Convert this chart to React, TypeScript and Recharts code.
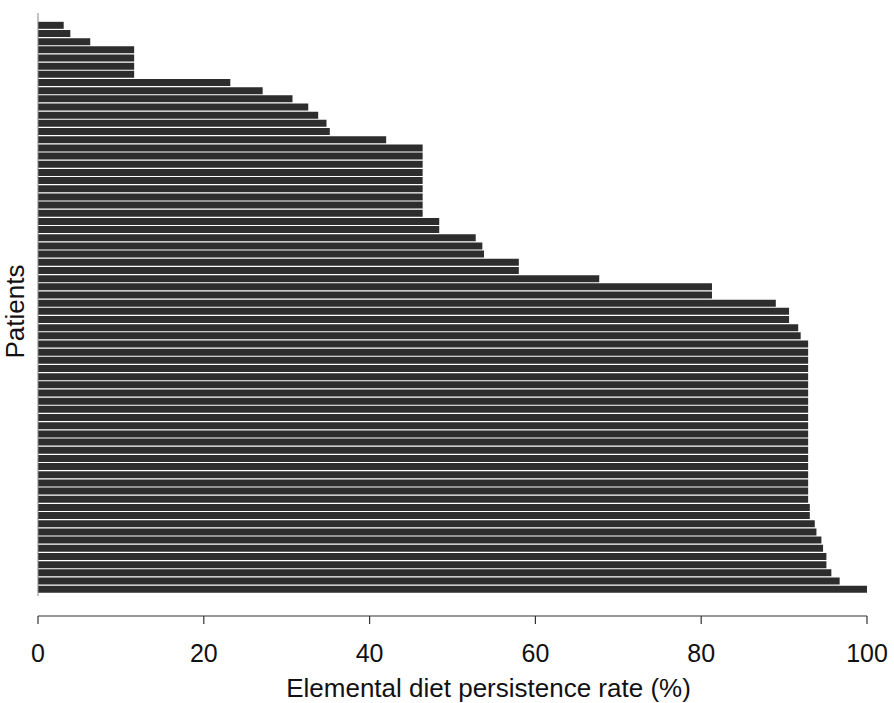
import React from "react";
import { BarChart, Bar, XAxis, YAxis } from "recharts";

const persistenceRates: number[] = [
  3.1, 3.9, 6.3, 11.6, 11.6, 11.6, 11.6, 23.2, 27.1, 30.7,
  32.6, 33.8, 34.8, 35.2, 42.0, 46.4, 46.4, 46.4, 46.4, 46.4,
  46.4, 46.4, 46.4, 46.4, 48.4, 48.4, 52.8, 53.6, 53.8, 58.0,
  58.0, 67.7, 81.3, 81.3, 89.0, 90.6, 90.6, 91.7, 92.0, 92.9,
  92.9, 92.9, 92.9, 92.9, 92.9, 92.9, 92.9, 92.9, 92.9, 92.9,
  92.9, 92.9, 92.9, 92.9, 92.9, 92.9, 92.9, 92.9, 92.9, 93.1,
  93.1, 93.7, 93.9, 94.5, 94.7, 95.1, 95.1, 95.7, 96.7, 100,
];
const patientIds: string[] = persistenceRates.map((_, i) => `P${i + 1}`);
const xTicks: number[] = [0, 20, 40, 60, 80, 100];

const data = patientIds.map((p, i) => ({ patient: p, rate: persistenceRates[i] }));

const FONT = '"Liberation Sans", Arial, Helvetica, sans-serif';

export default function App() {
  return (
    <div style={{ position: "absolute", left: 0, top: 0, width: 894, height: 703, background: "#fff" }}>
      <BarChart
        width={894}
        height={703}
        data={data}
        layout="vertical"
        margin={{ top: 13, right: 27, bottom: 0, left: 0 }}
        barCategoryGap="10%"
      >
        <XAxis
          type="number"
          domain={[0, 100]}
          ticks={xTicks}
          allowDataOverflow
          height={87}
          axisLine={{ stroke: "#333", strokeWidth: 1.2 }}
          tickLine={{ stroke: "#333", strokeWidth: 1.2 }}
          tickSize={8}
          tickMargin={20}
          tick={{ fill: "#111", fontSize: 25, fontFamily: FONT }}
          label={{
            value: "Elemental diet persistence rate (%)",
            position: "insideBottom",
            offset: 6,
            dx: 36,
            style: { fill: "#111", fontSize: 26, fontFamily: FONT },
          }}
        />
        <YAxis
          type="category"
          dataKey="patient"
          width={38}
          tick={false}
          tickLine={false}
          padding={{ top: 8, bottom: 23 }}
          axisLine={{ stroke: "#888", strokeWidth: 1, strokeDasharray: "583 200" }}
          label={{
            value: "Patients",
            angle: -90,
            position: "center",
            dx: -4,
            dy: -3,
            style: { fill: "#111", fontSize: 26, fontFamily: FONT, textAnchor: "middle" },
          }}
        />
        <Bar dataKey="rate" fill="#2d2d2d" isAnimationActive={false} />
      </BarChart>
    </div>
  );
}
